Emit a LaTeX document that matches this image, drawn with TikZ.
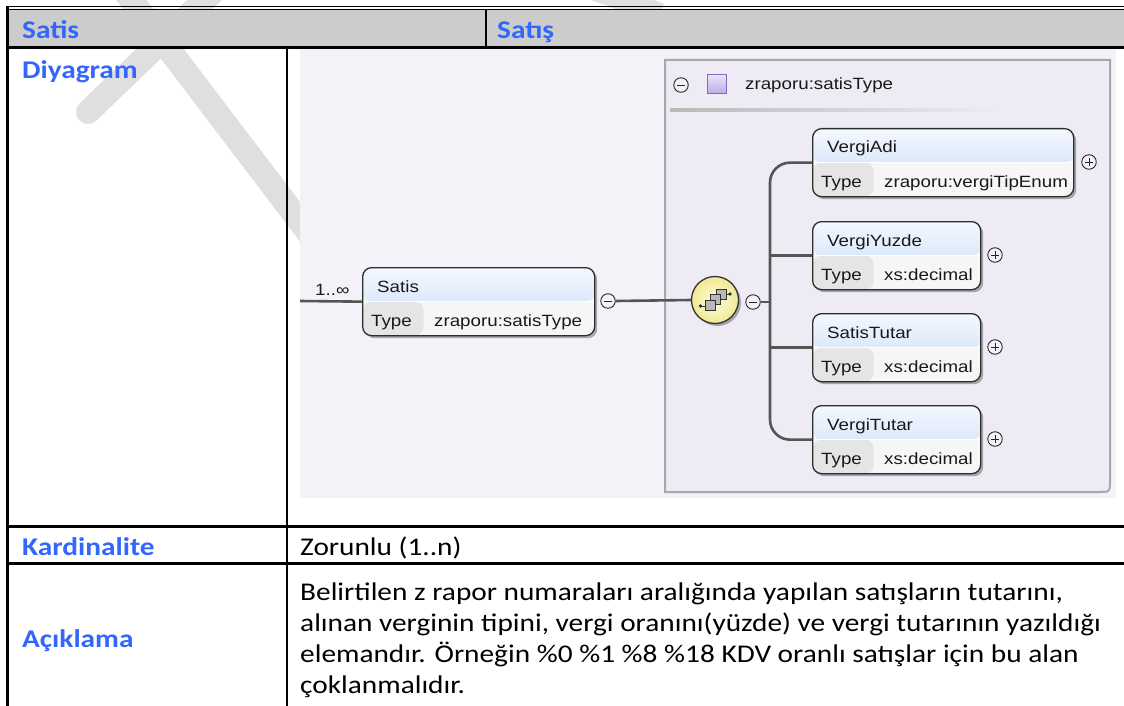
\documentclass[tikz,border=0pt]{standalone}
\usepackage{fontspec}
\setmainfont{Carlito}[FakeStretch=1.15]
\newfontfamily\diagfont{Liberation Sans}[FakeStretch=1.15]
\usetikzlibrary{shadows,calc}
\definecolor{lblblue}{RGB}{51,102,255}
\definecolor{hdrgray}{RGB}{204,204,204}
\definecolor{diagbg}{RGB}{244,242,249}
\definecolor{ctbg}{RGB}{238,235,245}
\definecolor{ctborder}{RGB}{168,168,172}
\definecolor{hdtop}{RGB}{244,248,255}
\definecolor{hdbot}{RGB}{196,217,245}
\definecolor{typelab}{RGB}{229,229,229}
\definecolor{typeval}{RGB}{246,246,246}
\definecolor{boxborder}{RGB}{45,45,45}
\definecolor{connc}{RGB}{85,85,85}
\definecolor{seqfill}{RGB}{255,255,196}
\definecolor{seqedge}{RGB}{240,232,150}
\definecolor{wmark}{RGB}{223,223,223}
\definecolor{purp}{RGB}{190,170,230}
\definecolor{purpedge}{RGB}{130,105,190}
\newcommand\myelem[6]{%
  \node[elbox, minimum width=#4pt] (#1) at (#2,#3) {};
  \node[eltxt] (#1-t) at (#2+15,#3+25) {#5};
  \node[eltxt] (#1-k) at (#2+9,#3+59) {Type};
  \node[eltxt] (#1-v) at (#2+72,#3+59) {#6};
}
\begin{document}
\begin{tikzpicture}[x=1pt,y=-1pt,
  tline/.style={line width=2.7pt, black},
  lbl/.style={anchor=base west, inner sep=0, font=\fontsize{25.5}{31}\selectfont\bfseries, text=lblblue},
  body/.style={anchor=base west, inner sep=0, font=\fontsize{25.5}{31}\selectfont, text=black},
  eltxt/.style={anchor=base west, inner sep=0, font=\diagfont\fontsize{16.3}{19}\selectfont, text=black!90},
  elbox/.style={draw=boxborder, line width=1.3pt, rounded corners=9pt, fill=typeval,
    inner sep=0, anchor=north west, minimum height=68pt,
    drop shadow={shadow xshift=2.5pt, shadow yshift=-2.5pt, fill=black, opacity=0.3},
    path picture={
      \fill[top color=hdtop, bottom color=hdbot] (path picture bounding box.north west) rectangle (path picture bounding box.east);
      \fill[typelab] (path picture bounding box.west) rectangle ([xshift=61pt]path picture bounding box.south west);
      \draw[white, line width=1pt] (path picture bounding box.west) -- (path picture bounding box.east);
    }},
  pmnode/.style={circle, draw=black!85, line width=0.9pt, fill=diagbg, minimum size=14.5pt, inner sep=0},
  minus/.style={pmnode, path picture={\draw[line width=0.9pt] ([xshift=3.5pt]path picture bounding box.west) -- ([xshift=-3.5pt]path picture bounding box.east);}},
  plus/.style={pmnode, path picture={\draw[line width=0.9pt] ([xshift=3.5pt]path picture bounding box.west) -- ([xshift=-3.5pt]path picture bounding box.east);
     \draw[line width=0.9pt] ([yshift=-3.5pt]path picture bounding box.north) -- ([yshift=3.5pt]path picture bounding box.south);}},
  conn/.style={draw=connc, line width=2.6pt},
  sqr/.style={draw=black!80, fill=gray!55, line width=0.8pt, minimum size=10pt, inner sep=0}
]
\useasboundingbox (0,0) rectangle (1124,706);
\clip (0,0) rectangle (1124,706);
\fill[white] (0,0) rectangle (1124,706);

% watermark
\draw[wmark, line width=24pt] (120,-15) -- (310,235);
\draw[wmark, line width=24pt, line cap=round] (220,-15) -- (88,112);
\draw[wmark, line width=22pt] (585,-14) -- (660,14);

% table
\fill[hdrgray] (8,10.5) rectangle (1130,46.5);
\draw[line width=1.2pt] (6,6.7) -- (1130,6.7);
\draw[line width=1pt] (6,9.8) -- (1130,9.8);
\draw[tline] (6,47.5) -- (1130,47.5);
\draw[tline] (7.5,6) -- (7.5,706);
\draw[tline] (486,10) -- (486,47);
\draw[tline] (287,47) -- (287,706);
\draw[tline] (6,526.5) -- (1130,526.5);
\draw[tline] (6,563.5) -- (1130,563.5);

\node[lbl] (h1) at (22,39) {Satis};
\node[lbl] (h2) at (497,39) {Satış};
\node[lbl] (l1) at (22,79) {Diyagram};
\node[lbl] (l2) at (22,555) {Kardinalite};
\node[body] (v2) at (300,555) {Zorunlu (1..n)};
\node[lbl] (l3) at (22,647) {Açıklama};
\node[body] (b1) at (300,600) {Belirtilen z rapor numaraları aralığında yapılan satışların tutarını,};
\node[body] (b2) at (300,631) {alınan verginin tipini, vergi oranını(yüzde) ve vergi tutarının yazıldığı};
\node[body] (b3) at (300,662) {elemandır. Örneğin \%0 \%1 \%8 \%18 KDV oranlı satışlar için bu alan};
\node[body] (b4) at (300,693) {çoklanmalıdır.};

% diagram background
\fill[diagbg] (300,49.5) rectangle (1116,498);

% complex type box
\draw[draw=ctborder, line width=2pt, fill=ctbg] (665,492) -- (665,60) -- (1110,60) -- (1110,480) .. controls (1110,492) .. (1098,492) -- cycle;
\fill[left color=gray!55, right color=ctbg] (670,108.8) rectangle (1003,111.2);
\node[minus] (ctm) at (681,85) {};
\node[draw=purpedge, line width=1pt, minimum size=19pt, inner sep=0, top color=purp!35, bottom color=purp] (ctsq) at (716.5,84.5) {};
\node[eltxt] (ctname) at (745,90) {zraporu:satisType};

% Satis element
\myelem{satis}{362}{267}{232}{Satis}{zraporu:satisType}
\node[eltxt] (card) at (315,295) {1..∞};
\coordinate (start) at (300,301);
\node[minus] (satism) at (608,301) {};

% sequence compositor
\node[circle, draw=black!80, line width=1.3pt, minimum size=47pt, inner sep=0,
      inner color=seqfill!70!white, outer color=seqedge,
      drop shadow={shadow xshift=2.5pt, shadow yshift=-2.5pt, fill=black, opacity=0.3}] (seq) at (715,300) {};
\fill[black!80] (700.5,306) circle (1.8pt);
\draw[black!80, line width=1pt] (700.5,306) -- (706,306);
\fill[black!80] (730,294) circle (1.8pt);
\draw[black!80, line width=1pt] (724,294) -- (730,294);
\node[sqr] (sq3) at (721,294) {};
\node[sqr] (sq2) at (715.5,299.5) {};
\node[sqr] (sq1) at (710,305) {};
\node[minus] (seqm) at (753,302) {};
\coordinate (trunk) at (770,302);

% children
\myelem{vadi}{812}{128}{261}{VergiAdi}{zraporu:vergiTipEnum}
\myelem{vyuz}{812}{221}{168}{VergiYuzde}{xs:decimal}
\myelem{stut}{812}{313}{168}{SatisTutar}{xs:decimal}
\myelem{vtut}{812}{405}{168}{VergiTutar}{xs:decimal}
\node[plus] (vadip) at (1089,162) {};
\node[plus] (vyuzp) at (995,255) {};
\node[plus] (stutp) at (995,347) {};
\node[plus] (vtutp) at (995,439) {};

% connectors
\draw[conn] (start) -- (satis.west);
\draw[conn] (satism.east) -- (seq.west);
\draw[conn] (seqm.east) -- (trunk);
\draw[conn, rounded corners=20pt] (vadi.west) -| (trunk) |- (vtut.west);
\draw[conn] (trunk |- vyuz.west) -- (vyuz.west);
\draw[conn] (trunk |- stut.west) -- (stut.west);
\end{tikzpicture}
\end{document}
